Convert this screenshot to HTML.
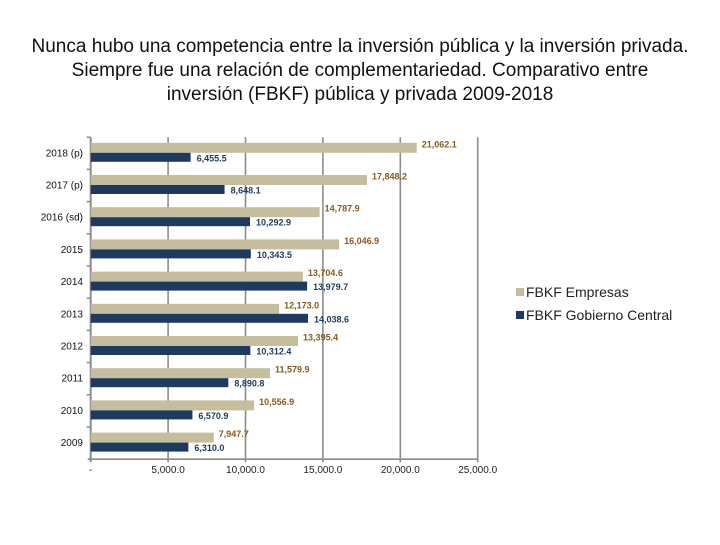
<!DOCTYPE html>
<html><head><meta charset="utf-8"><style>
body{margin:0;background:#fff;width:720px;height:540px;overflow:hidden}
text{font-family:"Liberation Sans","DejaVu Sans",sans-serif}
</style></head><body>
<svg id="chart" width="720" height="540" xmlns="http://www.w3.org/2000/svg">
<g font-size="19" fill="#111" text-anchor="middle">
<text x="360" y="52">Nunca hubo una competencia entre la inversión pública y la inversión privada.</text>
<text x="360" y="76">Siempre fue una relación de complementariedad. Comparativo entre</text>
<text x="360" y="100">inversión (FBKF) pública y privada 2009-2018</text>
</g>
<g id="grid"></g><g id="bars"></g><g id="labels"></g>
<g font-size="14" fill="#222">
<rect x="516" y="288" width="8" height="8" fill="#c4bd9e"/>
<text x="526" y="297">FBKF Empresas</text>
<rect x="516" y="311" width="8" height="8" fill="#1f3a5f"/>
<text x="526" y="320">FBKF Gobierno Central</text>
</g>
</svg>
<script>
const categories=["2018 (p)","2017 (p)","2016 (sd)","2015","2014","2013","2012","2011","2010","2009"];
const empresas=[21062.1,17848.2,14787.9,16046.9,13704.6,12173.0,13395.4,11579.9,10556.9,7947.7];
const gobierno=[6455.5,8648.1,10292.9,10343.5,13979.7,14038.6,10312.4,8890.8,6570.9,6310.0];
const ticks=[0,5000,10000,15000,20000,25000];
const tickLabels=["-","5,000.0","10,000.0","15,000.0","20,000.0","25,000.0"];
const NS="http://www.w3.org/2000/svg";
const x0=90.7,x1=477.7,yTop=137.2,band=32.2;
const X=v=>x0+(v/25000)*(x1-x0);
const Y=i=>yTop+i*band;
const yBottom=Y(categories.length);
function el(t,a,p){const e=document.createElementNS(NS,t);for(const k in a)e.setAttribute(k,a[k]);p.appendChild(e);return e;}
const grid=document.getElementById('grid'),bars=document.getElementById('bars'),labels=document.getElementById('labels');
ticks.forEach((t,i)=>{
 const l=el('line',{x1:X(t),x2:X(t),y1:yTop,y2:yBottom+3,stroke:'#8c8c8c','stroke-width':i===0?2:1.6},grid);
 
 
 const tx=el('text',{x:X(t),y:yBottom+14,'font-size':10,'text-anchor':'middle',fill:'#222'},grid);
 tx.textContent=tickLabels[i];
 
 
});
const bl=el('line',{x1:x0-3,x2:x1,y1:yBottom,y2:yBottom,stroke:'#8c8c8c','stroke-width':1.6},grid);


categories.forEach((c,i)=>{
 const yt=el('line',{x1:x0-4,x2:x0,y1:Y(i),y2:Y(i),stroke:'#8c8c8c','stroke-width':1.5},grid);
 
 
 const cy=Y(i)+band/2;
 const lab=el('text',{x:83,y:cy+3,'font-size':10,'text-anchor':'end',fill:'#111'},labels);
 lab.textContent=c;
 
 
 const b1=el('rect',{x:x0,y:cy-10.5,width:X(empresas[i])-x0,height:10,fill:'#c4bd9e'},bars);
 
 
 const b2=el('rect',{x:x0,y:cy-0.5,width:X(gobierno[i])-x0,height:9,fill:'#1f3a5f'},bars);
 
 
 const fmt=v=>v.toLocaleString('en-US',{minimumFractionDigits:1,maximumFractionDigits:1});
 const t1=el('text',{x:X(empresas[i])+5,y:cy-6,'font-size':9,fill:'#8a5a1e','font-weight':'bold'},labels);
 t1.textContent=fmt(empresas[i]);
 
 
 const t2=el('text',{x:X(gobierno[i])+6,y:cy+8,'font-size':9,fill:'#1f3a5f','font-weight':'bold'},labels);
 t2.textContent=fmt(gobierno[i]);
 
 
});
</script>
</body></html>
